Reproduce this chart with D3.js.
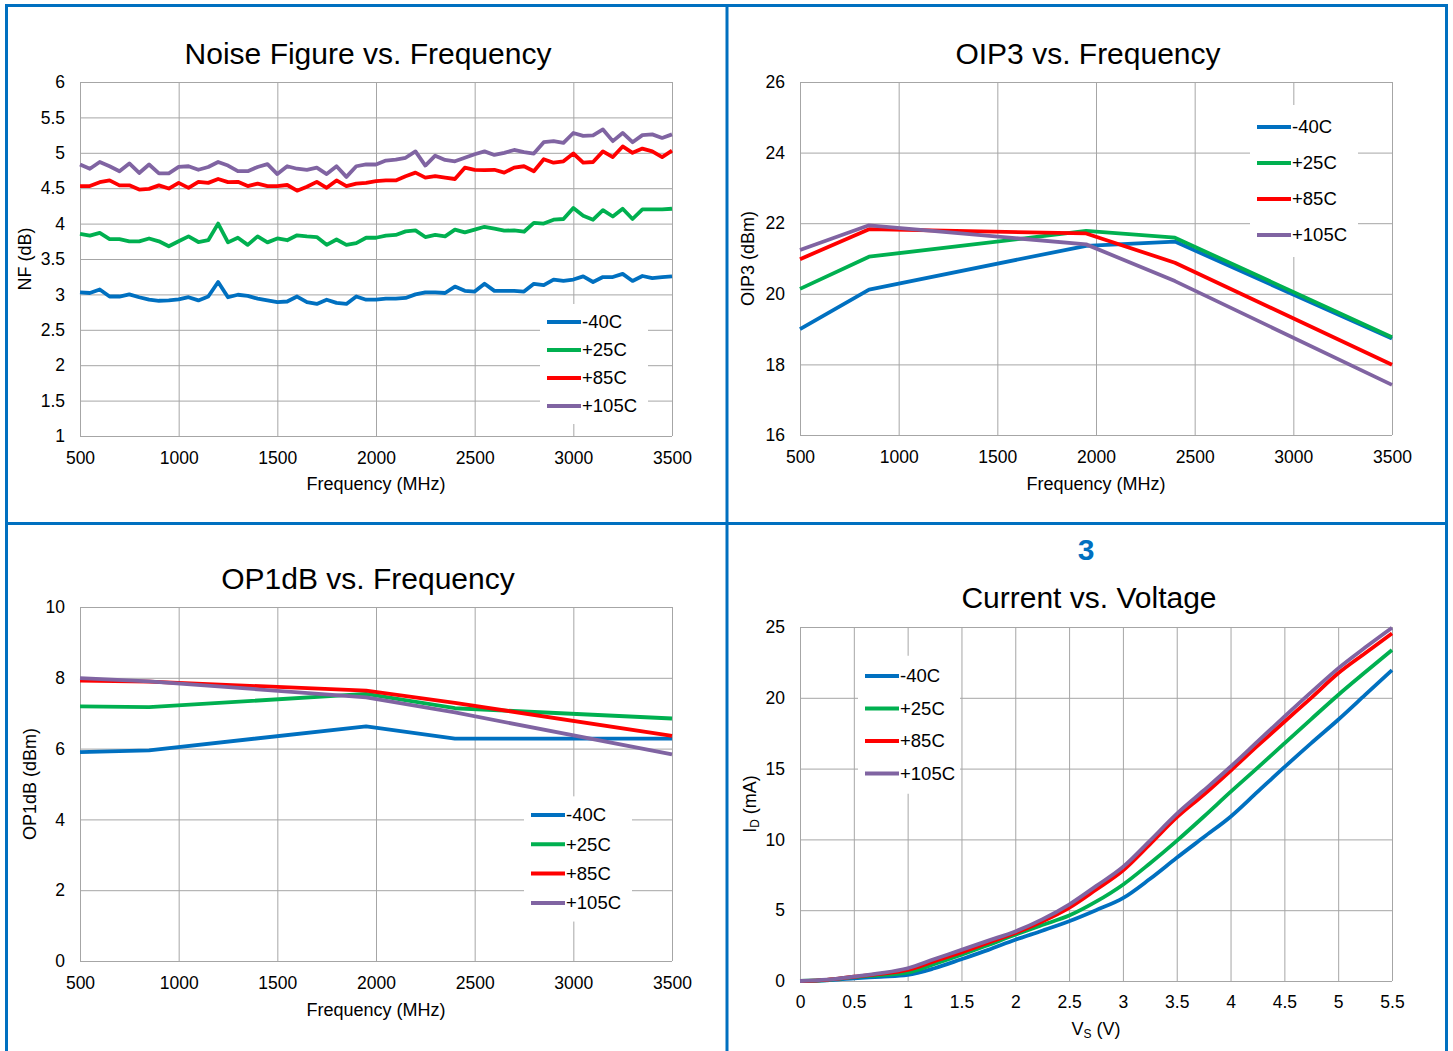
<!DOCTYPE html>
<html>
<head>
<meta charset="utf-8">
<script src="https://cdn.jsdelivr.net/npm/d3@7"></script>
<style>
  body { margin: 0; background: #fff; }
  svg { display: block; font-family: "Liberation Sans", Arial, sans-serif; }
</style>
</head>
<body>
<script>
// series names and colours shared by the four panels
var seriesNames = ["-40C", "+25C", "+85C", "+105C"];
var seriesColors = ["#0070C0", "#00B050", "#FF0000", "#8064A2"];

// Noise figure vs frequency
var nfFreq = [500, 550, 600, 650, 700, 750, 800, 850, 900, 950, 1000, 1050, 1100, 1150, 1200, 1250,
  1300, 1350, 1400, 1450, 1500, 1550, 1600, 1650, 1700, 1750, 1800, 1850, 1900, 1950, 2000, 2050,
  2100, 2150, 2200, 2250, 2300, 2350, 2400, 2450, 2500, 2550, 2600, 2650, 2700, 2750, 2800, 2850,
  2900, 2950, 3000, 3050, 3100, 3150, 3200, 3250, 3300, 3350, 3400, 3450, 3500];
var nfM40 = [3.03, 3.02, 3.07, 2.97, 2.97, 3.00, 2.96, 2.925, 2.91, 2.915, 2.93, 2.96, 2.915, 2.97, 3.175, 2.96,
  2.995, 2.98, 2.94, 2.915, 2.89, 2.90, 2.97, 2.89, 2.865, 2.925, 2.88, 2.865, 2.97, 2.925, 2.925, 2.94,
  2.94, 2.95, 3.0, 3.03, 3.03, 3.02, 3.11, 3.05, 3.04, 3.15, 3.05, 3.05, 3.05, 3.04, 3.15, 3.13,
  3.21, 3.19, 3.21, 3.255, 3.175, 3.245, 3.245, 3.29, 3.19, 3.26, 3.23, 3.245, 3.255];
var nfP25 = [3.855, 3.83, 3.87, 3.78, 3.78, 3.75, 3.75, 3.79, 3.75, 3.68, 3.75, 3.82, 3.74, 3.765, 4.0, 3.735,
  3.80, 3.70, 3.82, 3.735, 3.79, 3.765, 3.835, 3.82, 3.81, 3.70, 3.775, 3.70, 3.725, 3.80, 3.80, 3.83,
  3.84, 3.89, 3.905, 3.81, 3.84, 3.82, 3.915, 3.875, 3.915, 3.955, 3.93, 3.90, 3.905, 3.885, 4.01, 4.0,
  4.055, 4.065, 4.22, 4.11, 4.055, 4.19, 4.10, 4.21, 4.065, 4.20, 4.20, 4.20, 4.21];
var nfP85 = [4.53, 4.53, 4.585, 4.61, 4.54, 4.54, 4.48, 4.49, 4.54, 4.495, 4.575, 4.505, 4.59, 4.575, 4.63, 4.585,
  4.59, 4.53, 4.565, 4.53, 4.53, 4.545, 4.465, 4.52, 4.59, 4.505, 4.61, 4.53, 4.565, 4.575, 4.60, 4.61,
  4.61, 4.67, 4.72, 4.65, 4.67, 4.65, 4.63, 4.79, 4.76, 4.755, 4.76, 4.72, 4.79, 4.81, 4.74, 4.91,
  4.86, 4.88, 4.99, 4.86, 4.87, 5.02, 4.94, 5.09, 5.0, 5.06, 5.02, 4.94, 5.03];
var nfP105 = [4.835, 4.775, 4.87, 4.81, 4.74, 4.85, 4.715, 4.835, 4.71, 4.71, 4.80, 4.81, 4.76, 4.80, 4.87, 4.82,
  4.74, 4.74, 4.80, 4.84, 4.70, 4.81, 4.775, 4.76, 4.79, 4.70, 4.81, 4.66, 4.81, 4.835, 4.835, 4.89,
  4.905, 4.93, 5.02, 4.82, 4.96, 4.90, 4.88, 4.93, 4.98, 5.02, 4.97, 5.0, 5.04, 5.01, 4.99, 5.15,
  5.165, 5.14, 5.28, 5.24, 5.245, 5.33, 5.165, 5.28, 5.15, 5.25, 5.26, 5.21, 5.26];

// OIP3 vs frequency
var oipFreq = [500, 850, 1950, 2400, 3500];
var oipM40 = [19.0, 20.12, 21.36, 21.48, 18.73];
var oipP25 = [20.14, 21.05, 21.78, 21.59, 18.77];
var oipP85 = [20.98, 21.83, 21.71, 20.88, 17.99];
var oipP105 = [21.24, 21.94, 21.40, 20.36, 17.42];

// OP1dB vs frequency
var opFreq = [500, 850, 1950, 2400, 3500];
var opM40 = [5.90, 5.95, 6.63, 6.28, 6.28];
var opP25 = [7.19, 7.17, 7.545, 7.14, 6.85];
var opP85 = [7.92, 7.89, 7.64, 7.29, 6.36];
var opP105 = [7.99, 7.90, 7.45, 7.02, 5.84];

// Current vs voltage
var ivVolt = [0, 0.25, 0.5, 0.75, 1, 1.25, 1.5, 1.75, 2, 2.25, 2.5, 2.75, 3, 3.25, 3.5, 3.75, 4,
  4.25, 4.5, 4.75, 5, 5.25, 5.5];
var ivM40 = [0, 0.05, 0.19, 0.3, 0.43, 0.9, 1.54, 2.2, 2.91, 3.55, 4.22, 5.0, 5.85, 7.2, 8.7, 10.15, 11.6,
  13.35, 15.1, 16.8, 18.45, 20.2, 21.96];
var ivP25 = [0, 0.07, 0.27, 0.42, 0.59, 1.2, 1.85, 2.55, 3.27, 3.95, 4.62, 5.6, 6.8, 8.3, 9.9, 11.6, 13.35,
  15.05, 16.78, 18.5, 20.2, 21.8, 23.37];
var ivP85 = [0, 0.08, 0.3, 0.5, 0.78, 1.4, 2.01, 2.7, 3.39, 4.2, 5.17, 6.45, 7.8, 9.65, 11.55, 13.15, 14.85,
  16.6, 18.31, 20.0, 21.73, 23.15, 24.55];
var ivP105 = [0, 0.1, 0.31, 0.55, 0.9, 1.55, 2.2, 2.85, 3.5, 4.35, 5.4, 6.7, 8.05, 9.9, 11.8, 13.45, 15.13,
  16.9, 18.67, 20.4, 22.08, 23.55, 24.95];

// tick labels
var freqTicks = [500, 1000, 1500, 2000, 2500, 3000, 3500];
var nfTicks = [1, 1.5, 2, 2.5, 3, 3.5, 4, 4.5, 5, 5.5, 6];
var oipTicks = [16, 18, 20, 22, 24, 26];
var opTicks = [0, 2, 4, 6, 8, 10];
var voltTicks = [0, 0.5, 1, 1.5, 2, 2.5, 3, 3.5, 4, 4.5, 5, 5.5];
var currTicks = [0, 5, 10, 15, 20, 25];

var W = 1453, H = 1051;
var svg = d3.select("body").append("svg").attr("width", W).attr("height", H);

function drawPanel(p) {
  var g = svg.append("g");
  var x = d3.scaleLinear().domain(p.xDomain).range([p.left, p.right]);
  var y = d3.scaleLinear().domain(p.yDomain).range([p.bottom, p.top]);

  // title
  g.append("text").attr("x", p.titleX).attr("y", p.titleY).attr("dy", "0.35em")
    .attr("text-anchor", "middle").attr("font-size", 30).attr("fill", "#000").text(p.title);

  // grid + tick labels through d3 axes
  var ya = g.append("g").attr("transform", "translate(" + p.left + ",0)")
    .call(d3.axisLeft(y).tickValues(p.yTicks).tickSize(-(p.right - p.left)).tickPadding(15)
      .tickFormat(d3.format("")));
  var xa = g.append("g").attr("transform", "translate(0," + p.bottom + ")")
    .call(d3.axisBottom(x).tickValues(p.xTicks).tickSize(-(p.bottom - p.top)).tickPadding(15)
      .tickFormat(d3.format("")));
  [ya, xa].forEach(function(a) {
    a.select(".domain").remove();
    a.selectAll(".tick line").attr("stroke", "#a6a6a6").attr("stroke-width", 1);
    a.selectAll(".tick text").attr("font-size", 17.5).attr("fill", "#000")
      .attr("font-family", "'Liberation Sans', Arial, sans-serif");
  });
  xa.selectAll(".tick text").attr("dy", "0.35em").attr("y", p.xLabelDy);

  // axis titles
  var xt = g.append("text").attr("x", (p.left + p.right) / 2).attr("y", p.xTitleY).attr("dy", "0.35em")
    .attr("text-anchor", "middle").attr("font-size", 18);
  p.xTitle.forEach(function(s) {
    xt.append("tspan").attr("font-size", s.sub ? 12 : 18).attr("baseline-shift", s.sub ? "-25%" : null).text(s.t);
  });
  var yt = g.append("text").attr("transform", "translate(" + p.yTitleX + "," + ((p.top + p.bottom) / 2) + ") rotate(-90)")
    .attr("dy", "0.35em").attr("text-anchor", "middle").attr("font-size", 18);
  p.yTitle.forEach(function(s) {
    yt.append("tspan").attr("font-size", s.sub ? 12 : 18).attr("baseline-shift", s.sub ? "-25%" : null).text(s.t);
  });

  // series
  var line = d3.line().curve(p.curve || d3.curveLinear)
    .x(function(d) { return x(d[0]); }).y(function(d) { return y(d[1]); });
  p.series.forEach(function(vals, i) {
    var pts = p.xs.map(function(v, j) { return [v, vals[j]]; });
    g.append("path").datum(pts).attr("d", line).attr("fill", "none")
      .attr("stroke", seriesColors[i]).attr("stroke-width", 3.8).attr("stroke-linejoin", "round");
  });

  // legend
  var L = p.legend;
  g.append("rect").attr("x", L.x - 7).attr("y", L.y - L.dy / 2 - 4).attr("width", L.w)
    .attr("height", L.dy * 4 + 8).attr("fill", "#fff");
  seriesNames.forEach(function(n, i) {
    var yy = L.y + i * L.dy;
    g.append("line").attr("x1", L.x).attr("x2", L.x + 34).attr("y1", yy).attr("y2", yy)
      .attr("stroke", seriesColors[i]).attr("stroke-width", 4);
    g.append("text").attr("x", L.x + 35).attr("y", yy).attr("dy", "0.35em")
      .attr("font-size", 18.5).text(n);
  });
}

drawPanel({
  title: "Noise Figure vs. Frequency", titleX: 368, titleY: 53,
  left: 80, right: 672, top: 82, bottom: 436,
  xDomain: [500, 3500], yDomain: [1, 6], xTicks: freqTicks, yTicks: nfTicks, xLabelDy: 22,
  xTitle: [{t: "Frequency (MHz)"}], xTitleY: 484,
  yTitle: [{t: "NF (dB)"}], yTitleX: 25,
  xs: nfFreq, series: [nfM40, nfP25, nfP85, nfP105],
  legend: {x: 547, y: 322, dy: 28, w: 108}
});

drawPanel({
  title: "OIP3 vs. Frequency", titleX: 1088, titleY: 53,
  left: 800, right: 1392, top: 82, bottom: 435,
  xDomain: [500, 3500], yDomain: [16, 26], xTicks: freqTicks, yTicks: oipTicks, xLabelDy: 22,
  xTitle: [{t: "Frequency (MHz)"}], xTitleY: 484,
  yTitle: [{t: "OIP3 (dBm)"}], yTitleX: 748,
  xs: oipFreq, series: [oipM40, oipP25, oipP85, oipP105],
  legend: {x: 1257, y: 127, dy: 36, w: 108}
});

drawPanel({
  title: "OP1dB vs. Frequency", titleX: 368, titleY: 578,
  left: 80, right: 672, top: 607, bottom: 961,
  xDomain: [500, 3500], yDomain: [0, 10], xTicks: freqTicks, yTicks: opTicks, xLabelDy: 22,
  xTitle: [{t: "Frequency (MHz)"}], xTitleY: 1010,
  yTitle: [{t: "OP1dB (dBm)"}], yTitleX: 30,
  xs: opFreq, series: [opM40, opP25, opP85, opP105],
  legend: {x: 531, y: 815, dy: 29.3, w: 108}
});

drawPanel({
  title: "Current vs. Voltage", titleX: 1089, titleY: 597,
  left: 800, right: 1392, top: 627, bottom: 981,
  xDomain: [0, 5.5], yDomain: [0, 25], xTicks: voltTicks, yTicks: currTicks, xLabelDy: 21,
  xTitle: [{t: "V"}, {t: "S", sub: true}, {t: " (V)"}], xTitleY: 1029,
  yTitle: [{t: "I"}, {t: "D", sub: true}, {t: " (mA)"}], yTitleX: 750,
  xs: ivVolt, series: [ivM40, ivP25, ivP85, ivP105], curve: d3.curveMonotoneX,
  legend: {x: 865, y: 676, dy: 32.5, w: 102}
});

// figure number above the last panel
svg.append("text").attr("x", 1086).attr("y", 549).attr("dy", "0.35em").attr("text-anchor", "middle")
  .attr("font-size", 30).attr("font-weight", "bold").attr("fill", "#0070C0").text("3");

// blue cell borders
var border = svg.append("g").attr("stroke", "#0070C0").attr("stroke-width", 3).attr("fill", "none");
border.append("line").attr("x1", 6.5).attr("x2", 6.5).attr("y1", 4).attr("y2", H);
border.append("line").attr("x1", 1446.5).attr("x2", 1446.5).attr("y1", 4).attr("y2", H);
border.append("line").attr("x1", 727).attr("x2", 727).attr("y1", 4).attr("y2", H);
border.append("line").attr("x1", 5).attr("x2", 1448).attr("y1", 5.5).attr("y2", 5.5);
border.append("line").attr("x1", 5).attr("x2", 1448).attr("y1", 523.5).attr("y2", 523.5);
</script>
</body>
</html>
